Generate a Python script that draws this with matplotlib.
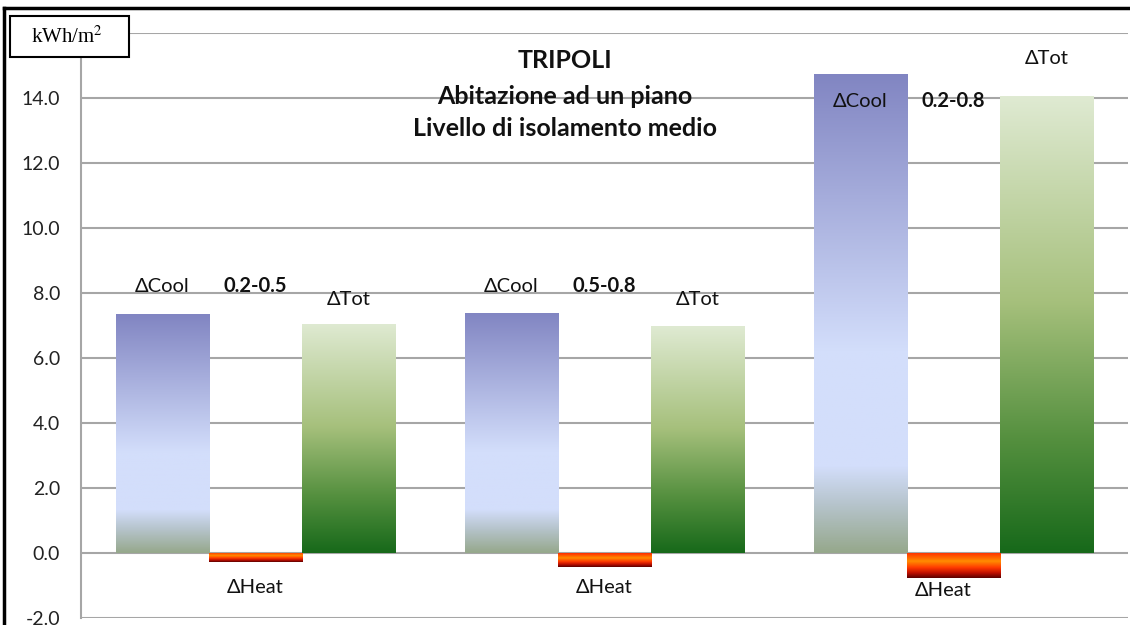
import matplotlib.pyplot as plt
import numpy as np
from matplotlib.colors import LinearSegmentedColormap
from matplotlib.patches import Rectangle

plt.rcParams['font.family'] = ['Lato', 'DejaVu Sans']

groups = ['0.2-0.5', '0.5-0.8', '0.2-0.8']
d_cool = [7.35, 7.4, 14.75]
d_heat = [-0.28, -0.42, -0.77]
d_tot = [7.05, 6.98, 14.05]
y_ticks = [-2.0, 0.0, 2.0, 4.0, 6.0, 8.0, 10.0, 12.0, 14.0]

cool_cmap = LinearSegmentedColormap.from_list('cool', [
    (0.0, '#8185c2'), (0.58, '#d3defb'), (0.82, '#d3defb'),
    (0.9, '#b6c4cc'), (1.0, '#96a88c')])
tot_cmap = LinearSegmentedColormap.from_list('tot', [
    (0.0, '#dfead2'), (0.45, '#a6c07c'), (0.75, '#55903f'), (1.0, '#17691a')])
heat_cmap = LinearSegmentedColormap.from_list('heat', [
    (0.0, '#ff2a00'), (0.35, '#ff8c00'), (0.6, '#ff3a00'),
    (0.8, '#c01000'), (1.0, '#5a0000')])

fig = plt.figure(figsize=(11.3, 6.25), dpi=100)
ax = fig.add_axes([81 / 1130, 1 - 618 / 625, 1047 / 1130, 585 / 625])

width = 0.267
x = np.arange(len(groups))


def gradient_bar(xc, h, cmap):
    bars = ax.bar(xc, h, width, color='none', edgecolor='none', zorder=3)
    b = bars[0]
    x0, y0 = b.get_x(), b.get_y()
    w, hh = b.get_width(), b.get_height()
    grad = np.linspace(0, 1, 256).reshape(-1, 1)
    top, bot = max(y0, y0 + hh), min(y0, y0 + hh)
    im = ax.imshow(grad, cmap=cmap, aspect='auto', origin='upper',
                   extent=[x0, x0 + w, bot, top], zorder=3)
    im.set_clip_path(Rectangle((x0, bot), w, top - bot, transform=ax.transData))


for i in range(len(groups)):
    gradient_bar(x[i] - width, d_cool[i], cool_cmap)
    gradient_bar(x[i], d_heat[i], heat_cmap)
    gradient_bar(x[i] + width, d_tot[i], tot_cmap)

ax.set_xlim(-0.5, 2.5)
ax.set_ylim(-2, 16)
ax.set_yticks(y_ticks + [16.0])
ax.set_yticklabels([f'{v:.1f}' for v in y_ticks] + [''])
ax.yaxis.grid(True, color='#a6a6a6', linewidth=1.5, zorder=0)
ax.set_axisbelow(True)
ax.set_xticks([])
ax.tick_params(axis='y', length=0, pad=15, labelsize=14, labelcolor='#222222')
for s in ['top', 'right', 'bottom']:
    ax.spines[s].set_visible(False)
ax.spines['left'].set_color('#a6a6a6')
ax.spines['left'].set_linewidth(1.5)

# series and group labels
lab = dict(fontsize=14.5, ha='center', va='center', color='#111111', zorder=5)
for i in range(2):
    ax.text(x[i] - width, 8.2, 'ΔCool', **lab)
    ax.text(x[i] + width, 7.8, 'ΔTot', **lab)
    ax.text(x[i], 8.2, groups[i], fontweight='bold', **lab)
    ax.text(x[i], -1.05, 'ΔHeat', **lab)
ax.text(x[2] - width, 13.9, 'ΔCool', **lab)
ax.text(x[2], 13.9, groups[2], fontweight='bold', **lab)
ax.text(x[2] + width, 15.2, 'ΔTot', **lab)
ax.text(x[2] - 0.03, -1.15, 'ΔHeat', **lab)

title_kw = dict(fontsize=18, fontweight='bold', ha='center', va='center',
                color='#111111', transform=fig.transFigure)
fig.text(565 / 1130, 1 - 60 / 625, 'TRIPOLI', **title_kw)
fig.text(565 / 1130, 1 - 96 / 625, 'Abitazione ad un piano', **title_kw)
fig.text(565 / 1130, 1 - 129 / 625, 'Livello di isolamento medio', **title_kw)

# unit box and outer frame
fig.add_artist(Rectangle((10 / 1130, 1 - 57 / 625), 119 / 1130, 41 / 625,
                         transform=fig.transFigure, facecolor='white',
                         edgecolor='black', linewidth=1.5, zorder=6))
fig.text(67 / 1130, 1 - 37 / 625, r'kWh/m$^2$', family='Liberation Serif',
         fontsize=15, ha='center', va='center', zorder=7,
         math_fontfamily='stix')
fig.add_artist(plt.Line2D([4 / 1130, 4 / 1130], [0, 1 - 8 / 625],
                          transform=fig.transFigure, color='black', linewidth=2.5))
fig.add_artist(plt.Line2D([4 / 1130, 1], [1 - 8 / 625, 1 - 8 / 625],
                          transform=fig.transFigure, color='black', linewidth=2.5))

fig.savefig('out.png', dpi=100)
